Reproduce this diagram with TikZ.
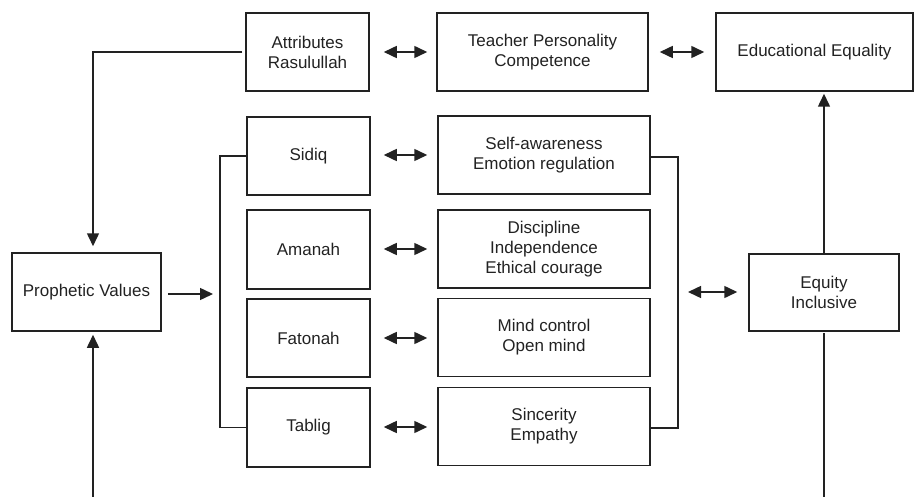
\documentclass[tikz,border=0pt]{standalone}
\usepackage{fontspec}
\setmainfont{Liberation Sans}
\usetikzlibrary{arrows.meta}
\definecolor{ink}{RGB}{34,34,34}
\begin{document}
\begin{tikzpicture}[x=1pt,y=-1pt,
  box/.style={draw=ink,line width=1.5pt,inner sep=0pt,align=center,text=ink,
    font=\fontsize{17}{20}\selectfont},
  conn/.style={draw=ink,line width=1.5pt},
  arr/.style={conn,-{Triangle[length=13pt,width=12pt]}},
  darr/.style={conn,{Triangle[length=13pt,width=12pt]}-{Triangle[length=13pt,width=12pt]}}]
\useasboundingbox (0,0) rectangle (915,497);
% top row
\node[box,minimum width=123,minimum height=78] (attr) at (307.5,52) {Attributes\\Rasulullah};
\node[box,minimum width=211,minimum height=78] (teach) at (542.5,52) {Teacher Personality\\Competence};
\node[box,minimum width=197,minimum height=78] (edu) at (814.5,52) {Educational Equality};
% left column
\node[box,minimum width=123,minimum height=78] (sidiq) at (308.5,156) {Sidiq};
\node[box,minimum width=123,minimum height=79] (amanah) at (308.5,249.5) {Amanah};
\node[box,minimum width=123,minimum height=78] (fatonah) at (308.5,338) {Fatonah};
\node[box,minimum width=123,minimum height=79] (tablig) at (308.5,427.5) {Tablig};
% middle column
\node[box,minimum width=212,minimum height=78] (self) at (544,155) {Self-awareness\\Emotion regulation};
\node[box,minimum width=212,minimum height=78] (disc) at (544,249) {Discipline\\Independence\\Ethical courage};
\node[box,minimum width=212,minimum height=78] (mind) at (544,337.5) {Mind control\\Open mind};
\node[box,minimum width=212,minimum height=78] (sinc) at (544,426.5) {Sincerity\\Empathy};
% side boxes
\node[box,minimum width=149,minimum height=78] (proph) at (86.5,292) {Prophetic Values};
\node[box,minimum width=150,minimum height=77] (equity) at (824,292.5) {Equity\\Inclusive};
% free ends
\coordinate (lbr) at (220,294);
\coordinate (botL) at (93,497);
\coordinate (botR) at (824,497);
\coordinate (rbr) at (678,292);
% double arrows
\draw[darr] ([xshift=14]attr.east) -- ([xshift=-9]teach.west);
\draw[darr] ([xshift=11]teach.east) -- ([xshift=-11]edu.west);
\draw[darr] ([xshift=13]sidiq.east|-0,155) -- ([xshift=-10]self.west|-0,155);
\draw[darr] ([xshift=13]amanah.east|-0,249) -- ([xshift=-10]disc.west|-0,249);
\draw[darr] ([xshift=13]fatonah.east|-0,338) -- ([xshift=-10]mind.west|-0,338);
\draw[darr] ([xshift=13]tablig.east|-0,427) -- ([xshift=-10]sinc.west|-0,427);
% brackets
\draw[conn] (sidiq.west) -- (sidiq.west-|lbr) -- (tablig.west-|lbr) -- (tablig.west);
\draw[conn] ([yshift=-2]self.east) -- ([yshift=-2]self.east-|rbr) -- ([yshift=-1.5]sinc.east-|rbr) -- ([yshift=-1.5]sinc.east);
% prophetic to bracket
\draw[arr] ([xshift=6,yshift=-2]proph.east) -- ([xshift=-7]lbr);
% bracket to equity
\draw[darr] ([xshift=10]rbr) -- ([xshift=-11]equity.west|-rbr);
% attributes to prophetic
\draw[arr] ([xshift=-3]attr.west) -| ([xshift=6.5,yshift=6]proph.north);
% bottom to prophetic
\draw[arr] (botL) -- ([xshift=6.5,yshift=-3]proph.south);
% equity to educational
\draw[arr] (equity.north) -- ([yshift=-2]edu.south-|equity.north);
\draw[conn] ([yshift=-1]equity.south) -- (botR);
\end{tikzpicture}
\end{document}
